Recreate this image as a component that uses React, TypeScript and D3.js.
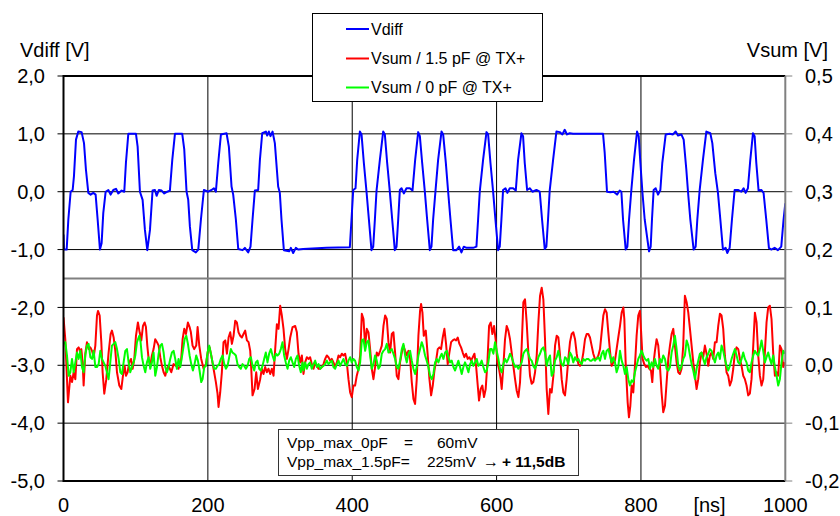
import React from "react";
import * as d3 from "d3";

// chart frame
const W = 840,
  H = 516;
const frame = { left: 63.5, right: 785.3, top: 76, bottom: 481 };

// axis ticks
const timeTicks = [0, 200, 400, 600, 800, 1000];
const vdiffTicks = [2, 1, 0, -1, -2, -3, -4, -5];
const vsumTicks = [0.5, 0.4, 0.3, 0.2, 0.1, 0, -0.1, -0.2];
// baseline separating the two traces (Vdiff scale)
const splitLevel = -1.5;

// Vdiff [ns, V]
const vdiff = [
  [0, -0.74], [0.7, -1.0], [4.4, -1.0], [6.7, -0.48], [9.9, 0.0], [12.7, 0.03], [14.5, 0.27], [17.3, 0.9],
  [20.5, 1.04], [25.1, 1.03], [28.4, 0.84], [31.1, 0.38], [34.4, -0.02], [37.6, -0.05], [41.3, -0.02], [44.5, -0.05],
  [47.3, -0.48], [50.5, -1.0], [52.8, -0.89], [55.1, -0.37], [58.4, 0.0], [62.1, 0.03], [65.3, -0.05], [69, 0.03],
  [72.7, 0.05], [75.9, -0.03], [80.5, 0.02], [84.2, 0.0], [86.5, 0.5], [89.8, 1.0], [100.4, 1.0], [102.7, 0.78],
  [105.9, 0.0], [109.6, -0.14], [112.8, -0.66], [116.1, -1.01], [119.8, -0.66], [123.4, 0.02], [126.7, 0.03], [129, -0.07],
  [132.2, 0.03], [135.9, 0.02], [139.6, -0.03], [143.8, 0.0], [147.4, 0.02], [150.7, 0.55], [154.4, 1.0], [164.5, 1.0],
  [167.3, 0.73], [170.5, 0.0], [172.8, -0.14], [175.1, -0.6], [178.4, -1.01], [183.4, -1.05], [186.7, -1.0], [190.4, -0.48],
  [194.5, 0.03], [200.5, 0.0], [205.1, 0.03], [208.4, 0.06], [211.1, 0.0], [214.4, 0.5], [218.1, 0.99], [225.9, 1.01],
  [229.1, 0.78], [232.8, 0.09], [235.1, -0.05], [238.8, -0.48], [242.1, -0.99], [248.1, -1.01], [251.3, -0.97], [255.9, -1.05],
  [259.1, -0.95], [261.9, -0.48], [265.1, 0.02], [269.7, 0.03], [272.1, 0.55], [275.3, 1.01], [280.4, 1.04], [282.2, 0.97],
  [284.5, 1.04], [286.8, 0.96], [289.6, 1.04], [292.8, 0.84], [297.4, 0.09], [299.7, -0.02], [302, -0.48], [305.3, -1.01],
  [312.7, -1.03], [315, -0.97], [318.2, -1.06], [321.9, -0.97], [325.1, -1.0], [332, -0.99], [364.4, -0.97], [396.7, -0.96],
  [399, -0.48], [401.4, 0.03], [404.6, 0.06], [406.9, 0.55], [410.6, 1.04], [412.9, 0.99], [416.1, 0.5], [419.8, 0.0],
  [423.1, -0.48], [426.7, -1.01], [429.1, -0.95], [431.4, -0.48], [433.7, 0.02], [438.3, 0.55], [442.9, 1.04], [445.2, 0.99],
  [448.4, 0.5], [452.1, 0.0], [455.4, -0.48], [459, -1.01], [461.4, -0.95], [463.7, -0.48], [466, 0.03], [468.3, 0.06],
  [471.5, -0.03], [475.2, 0.06], [479.8, 0.06], [483.5, 0.02], [487.2, 0.55], [491.4, 1.03], [493.7, 0.96], [496.9, 0.5],
  [500.6, 0.0], [503.8, -0.48], [507.5, -1.01], [509.8, -0.95], [512.1, -0.48], [515.4, 0.02], [519, 0.55], [523.7, 1.04],
  [526, 0.99], [529.7, 0.5], [532.9, 0.0], [536.1, -0.48], [539.8, -1.01], [544.4, -1.01], [548.1, -0.95], [551.3, -1.05],
  [554.6, -0.95], [558.3, -0.97], [567.5, -0.97], [572.1, -0.95], [574.4, -0.48], [576.7, 0.0], [581.3, 0.55], [586, 1.03],
  [588.3, 0.99], [591.5, 0.5], [595.2, 0.0], [598.4, -0.48], [602.1, -1.01], [604.4, -0.95], [606.7, -0.48], [609, 0.03],
  [612.3, 0.06], [615, -0.02], [618.3, 0.06], [622.9, 0.06], [626.6, 0.02], [629.8, 0.55], [634.4, 1.01], [636.7, 0.96],
  [639, 0.5], [642.3, 0.03], [645.9, 0.06], [649.7, 0.0], [655.2, 0.03], [659.8, 0.0], [663, -0.48], [666.7, -0.99],
  [669, -0.95], [671.3, -0.48], [673.6, 0.02], [678.3, 0.55], [682.9, 1.04], [687.5, 1.03], [691.2, 0.99], [694.4, 1.07],
  [697.6, 0.99], [701.3, 1.01], [705.9, 1.0], [747.5, 1.0], [749.8, 0.67], [753, 0.0], [757.6, -0.01], [762.3, 0.0],
  [766.9, -0.05], [770.6, 0.02], [772.9, 0.0], [775.2, -0.48], [778.9, -1.0], [781.2, -0.95], [783.5, -0.48], [786.7, 0.03],
  [790.4, 0.55], [794.6, 1.04], [796.9, 0.96], [799.2, 0.5], [802, 0.0], [805.2, -0.48], [811.2, -1.03], [813.5, -0.95],
  [815.3, -0.48], [817.6, 0.03], [820.4, 0.06], [823.7, -0.05], [826.9, 0.03], [829.6, 0.5], [834.3, 0.99], [839.8, 1.0],
  [844.4, 0.99], [848.1, 1.04], [851.3, 0.97], [856, 0.99], [859.2, 0.9], [862.9, 0.38], [865.2, 0.0], [868.4, -0.48],
  [873, -1.0], [875.8, -0.95], [878.1, -0.48], [881.3, 0.02], [885.9, 0.55], [890.6, 1.04], [896.1, 1.01], [898.9, 0.84],
  [903, 0.32], [906.7, -0.02], [910, -0.48], [913.6, -1.0], [917.3, -0.97], [919.6, -1.06], [922.9, -0.97], [926.1, -0.48],
  [929.8, 0.03], [934.4, 0.03], [939, 0.0], [942.2, 0.06], [945, -0.02], [948.2, 0.06], [951.5, 0.55], [955.2, 1.01],
  [957.5, 0.96], [959.8, 0.5], [963, 0.02], [966.7, 0.03], [969.9, -0.02], [973.6, -0.48], [977.3, -0.97], [980.5, -1.0],
  [985.2, -0.97], [989.8, -1.01], [994.4, -0.95], [997.6, -0.48], [1000, -0.2]
];

// Vsum with 1.5 pF @ TX+  [ns, mV]
const vsum15pF = [
  [0, 83], [2.5, 45], [6.2, -64], [9.5, -18], [11.8, -29], [14.1, -12], [16.4, -24], [18.7, 28], [21, 31], [23.3, 22],
  [24.7, 28], [26.5, 5], [27.9, -35], [30.2, 20], [32.5, 40], [34.8, 28], [37.2, 31], [39.5, 25], [41.8, 14], [44.1, 34],
  [46.4, 86], [47.8, 94], [50.1, 86], [52.4, 40], [54.2, -12], [56.5, -49], [59.3, -24], [62.5, 22], [65.3, 54], [67.1, 60],
  [69.5, 48], [71.8, 25], [74.1, -12], [77.3, -35], [80.1, -41], [82.4, -18], [84.7, -1], [86.5, -18], [88.8, -12], [91.1, 5],
  [93.5, 11], [95.8, -6], [98.1, 11], [100.4, 51], [103.1, 74], [105.5, 57], [107.8, 43], [110.1, 68], [112.4, 74], [114.2, 66],
  [116.1, 34], [117.9, 11], [120.2, -1], [122.5, 17], [124.8, 28], [127.1, 45], [129.5, 40], [131.8, 34], [134.1, 14], [136.4, -1],
  [138.7, -12], [141, -18], [143.3, -6], [145.6, -1], [149.3, -12], [152.5, 2], [155.8, -1], [159.4, -6], [162.7, 5], [165, 45],
  [167.3, 63], [169.6, 54], [172.4, 74], [174.7, 66], [176.5, 57], [178.8, 34], [181.1, 28], [183.9, 34], [185.8, 66], [188.1, 34],
  [190.8, 11], [194.1, -6], [197.3, 2], [200.1, 25], [202.4, 31], [204.7, 17], [207.9, -6], [211.1, -29], [213.4, -49], [214.8, -72],
  [217.1, -47], [219.4, -12], [221.7, 40], [224.1, 43], [226.4, 20], [228.7, 48], [231, 57], [233.3, 37], [235.6, 51], [237.9, 77],
  [240.2, 74], [242.5, 57], [244.8, 51], [247.1, 48], [249.4, 54], [251.7, 60], [254.1, 43], [256.4, 40], [258.7, 25], [260, -3],
  [261.9, -52], [264.7, -41], [267, -12], [269.3, -41], [272.5, -24], [274.8, -6], [277.1, -15], [279.4, -3], [281.7, -12], [284, -6],
  [286.4, -15], [288.7, -6], [291, -18], [293.3, 28], [295.6, 71], [297.9, 63], [300.2, 103], [302.5, 86], [304.8, 63], [307.1, 28],
  [309.5, 11], [311.8, 28], [314.1, 48], [317.3, 66], [321, 68], [323.3, 57], [325.6, 20], [327.9, 5], [330.2, 17], [332.5, -15],
  [334.8, 5], [337.1, 14], [339.4, 11], [341.7, 14], [344, 2], [346.4, -6], [348.7, 5], [351, -1], [353.3, -6], [355.6, -6],
  [357.9, -3], [360.2, 2], [362.5, 11], [364.8, 17], [367.1, 14], [369.4, 8], [371.7, 11], [374, 5], [376.4, -3], [378.7, 5],
  [381, 17], [383.3, 14], [385.6, 20], [387.9, 17], [390.2, 20], [392.5, 5], [394.8, -24], [397.1, -47], [399.4, -55], [401.7, -35],
  [404, -35], [406.3, -18], [408.7, -6], [411, 17], [413.3, 89], [415.6, 80], [417.9, 34], [420.2, 63], [422.5, 57], [424.8, 28],
  [427.1, -6], [429.4, -24], [431.7, -3], [434, 22], [436.3, 17], [438.7, 25], [441, 34], [443.3, 68], [445.6, 86], [447.9, 80],
  [450.2, 40], [452.5, 22], [454.8, 54], [457.1, 57], [459.4, 22], [461.7, -18], [464, -24], [466.3, 5], [468.7, 22], [471, 34],
  [473.3, 25], [475.6, 17], [477.9, 25], [480.2, 11], [482.5, -29], [484.8, -58], [487.1, -67], [489.4, -24], [491.7, 51], [494, 94],
  [495.4, 106], [497.3, 91], [499.1, 51], [501.9, 60], [504.6, 17], [507, -24], [509.3, -52], [511.6, -35], [513.9, -9], [516.2, 8],
  [518.5, 28], [520.8, 31], [523.1, 28], [525.4, 48], [527.7, 63], [530, 37], [532.3, 2], [534.6, 22], [537, 40], [539.3, 43],
  [541.6, 45], [543.9, 43], [546.2, 48], [548.5, 37], [550.8, 31], [553.1, 22], [555.4, 14], [557.7, 20], [560, 11], [562.3, 14],
  [564.6, 8], [567, 14], [569.3, 20], [571.6, -1], [573.9, -35], [575.7, -61], [578, -41], [580.3, -35], [582.6, -55], [584.9, -41],
  [587.3, 5], [589.6, 68], [591.9, 74], [594.2, 54], [596.5, 68], [598.8, 43], [601.1, 5], [603.4, -6], [605.7, -24], [607.1, -41],
  [609.4, -1], [611.7, 45], [614, 68], [616.3, 60], [618.6, 45], [620.9, 22], [623.2, -1], [625.6, -24], [627.9, -44], [630.2, -55],
  [632.5, -29], [634.8, 34], [637.1, 109], [639.4, 114], [641.7, 74], [644, 22], [646.3, -18], [648.6, -32], [650.9, -29], [653.3, -12],
  [655.6, 17], [657.9, 74], [660.2, 120], [662.5, 134], [664.8, 114], [667.1, 45], [669.4, -41], [671.7, -84], [674, -41], [676.3, -47],
  [678.7, -18], [681, 34], [683.3, 51], [685.6, 48], [687.9, 17], [690.2, -24], [692.5, -47], [694.8, -52], [697.1, -24], [699.4, 11],
  [701.7, 40], [704, 54], [706.3, 57], [708.7, 45], [711, 20], [713.3, 2], [715.6, -1], [717.9, 5], [720.2, 22], [722.5, 45],
  [724.8, 54], [727.1, 54], [729.4, 48], [731.7, 34], [734, 20], [736.3, 11], [738.6, 11], [741, 17], [743.3, 28], [745.6, 57],
  [747.9, 86], [750.2, 97], [752.5, 91], [754.8, 57], [757.1, 25], [759.4, -1], [761.7, 5], [764, 8], [766.3, 28], [768.6, 48],
  [771, 68], [773.3, 91], [775.6, 100], [777, 80], [778.8, 5], [781.6, -64], [783.4, -90], [785.3, -70], [787.1, -35], [789.4, -47],
  [791.7, -1], [794, 51], [796.3, 86], [798.6, 94], [800, 63], [802.3, 11], [804.6, 2], [807, -3], [809.3, -1], [811.6, -6],
  [813.9, -9], [815.7, -29], [817.6, 5], [819.4, 25], [821.7, 45], [824, 34], [826.3, -1], [828.6, -47], [830.9, -81], [833.3, -70],
  [835.6, -29], [837.9, 11], [840.2, 34], [842.5, 54], [844.8, 63], [847.1, 34], [849.4, 5], [851.7, -12], [854, -15], [856.3, -6],
  [858.6, 34], [860.9, 120], [863.3, 109], [865.6, 91], [867.9, 63], [870.2, 34], [872.5, 5], [874.8, -18], [877.1, -41], [879.4, -24],
  [881.7, 5], [884, 22], [886.3, 14], [888.6, 34], [890.9, 20], [893.3, -1], [895.6, 17], [897.9, 22], [900.2, 11], [902.5, 40],
  [904.8, 40], [907.1, 68], [909.4, 89], [911.7, 86], [914, 63], [916.3, 17], [918.6, -12], [920.9, -18], [923.2, -35], [925.6, -26],
  [927.9, -6], [930.2, 22], [932.5, 31], [934.8, 28], [937.1, 11], [939.4, -1], [941.7, -18], [944, -24], [946.3, -35], [948.6, -52],
  [950.9, -49], [953.2, -24], [955.6, 34], [957.9, 91], [960.2, 74], [962.5, 17], [964.8, -18], [967.1, -35], [969.4, -24], [971.7, 22],
  [974, 74], [976.3, 100], [978.6, 103], [980.9, 80], [983.2, 22], [985.6, -18], [987.9, -12], [990.2, -18], [992.5, 34], [994.8, 28],
  [997.1, -3], [999.4, 5]
];

// Vsum with 0 pF @ TX+  [ns, mV]
const vsum0pF = [
  [0, 37], [2.5, 40], [4.8, 17], [7.2, -18], [9.5, -12], [11.8, 11], [14.1, -12], [16.4, 5], [18.7, 22], [21, 11],
  [23.3, 25], [25.6, -3], [27.9, -12], [30.2, 17], [32.5, 34], [34.8, 37], [37.2, 14], [39.5, 11], [41.8, 25], [44.1, -3],
  [46.4, -3], [48.7, 2], [51, 25], [53.3, 11], [55.6, 5], [57.9, -1], [60.2, -12], [62.5, -24], [64.8, 5], [67.1, 34],
  [69.5, 37], [71.8, 40], [74.1, 28], [76.4, 11], [78.7, -12], [81, -15], [83.3, 5], [85.6, 25], [87.9, 28], [90.2, 5],
  [92.5, -12], [94.8, -3], [97.1, 5], [99.5, 17], [101.8, 40], [105, 51], [106.8, 40], [108.7, 14], [111, -1], [113.3, -12],
  [115.6, 5], [117.9, 14], [120.2, -6], [122.5, 5], [124.8, 22], [127.1, -18], [129.5, -3], [131.8, 20], [134.1, 34], [136.4, 37],
  [138.7, 22], [141, -3], [143.3, -12], [145.6, -3], [147.9, 11], [150.2, 22], [152.5, 25], [154.8, 11], [157.1, -6], [159.4, 11],
  [161.8, -3], [165, 22], [167.8, 45], [170.1, 51], [172.4, 37], [174.7, 17], [177, 2], [179.3, -9], [181.6, 2], [183.9, 17],
  [186.2, 8], [188.5, -9], [190.8, -29], [192.7, -24], [195, -3], [197.3, -1], [199.6, 22], [201.9, 34], [204.2, 20], [206.5, 5],
  [208.8, -6], [211.1, -6], [213.4, -1], [215.7, 2], [218, 11], [220.4, 17], [222.7, 2], [225, -6], [227.3, -1], [229.6, 14],
  [231.9, 28], [234.2, 22], [236.5, 20], [238.8, 17], [241.1, 2], [243.4, -3], [245.7, -6], [248, 2], [250.3, -1], [252.7, -6],
  [255, -1], [257.3, 11], [259.6, 14], [261.9, -1], [264.2, -9], [266.5, 5], [268.8, 8], [271.1, -6], [273.4, -9], [275.7, -1],
  [278, 11], [280.3, 22], [282.6, 5], [284.9, 20], [287.3, 28], [289.6, 17], [291.9, 8], [294.2, 20], [296.5, 17], [298.8, 20],
  [301.1, 28], [303.4, 40], [305.7, 17], [308, 5], [310.4, -6], [312.7, 8], [315, 14], [317.3, 5], [319.6, -3], [321.9, 11],
  [324.2, 17], [326.5, -1], [328.8, -12], [331.1, 5], [332.5, -9], [334.8, 5], [337.1, -6], [339.4, 2], [341.7, 5], [344, -6],
  [346.4, 2], [348.7, 8], [351, -3], [353.3, 2], [355.6, -6], [357.9, -3], [360.2, -1], [362.5, 2], [364.8, 8], [367.1, 2],
  [369.4, 5], [371.7, 8], [374, -3], [376.4, -6], [378.7, 2], [381, 8], [383.3, -1], [385.6, 5], [387.9, 11], [390.2, 2],
  [392.5, -1], [394.8, 8], [397.1, 14], [399.4, 5], [401.7, 11], [404, 8], [406.3, -3], [408.7, -9], [411, 5], [413.3, 43],
  [415.6, 45], [417.9, 25], [420.2, 40], [422.5, 43], [424.8, 17], [427.1, -6], [429.4, 2], [431.7, 17], [434, 8], [436.3, -6],
  [438.7, -1], [441, 20], [443.3, 25], [445.6, 28], [447.9, 37], [450.2, 22], [452.5, 25], [454.8, 28], [457.1, 20], [459.4, 11],
  [461.7, -3], [464, -6], [466.3, 8], [468.7, 28], [471, 37], [473.3, 17], [475.6, 5], [477.9, 20], [480.2, 25], [482.5, 8],
  [484.8, -6], [487.1, -15], [489.4, -3], [491.7, 17], [494, 28], [496.3, 40], [498.6, 31], [500.9, 17], [503.2, 8], [505.6, -3],
  [507.9, -18], [510.2, -24], [512.5, -15], [514.8, 5], [517.1, 11], [519.4, 5], [521.7, 14], [524, 20], [526.3, 11], [528.7, 22],
  [531, 25], [533.3, 14], [535.6, 5], [537.9, 8], [540.2, -3], [542.5, -9], [544.8, -1], [547.1, 8], [549.4, -3], [551.7, -15],
  [554, -3], [556.3, 5], [558.7, -3], [561, -12], [563.3, 2], [565.6, 8], [567.9, -1], [570.2, 5], [572.5, 11], [574.8, -1],
  [577.1, 2], [579.4, 8], [581.7, -3], [584, -12], [586.3, -9], [588.6, 5], [591, 28], [593.3, 28], [595.6, 20], [597.9, 40],
  [600.2, 25], [602.5, 11], [604.8, -6], [607.1, -12], [609.4, 2], [611.7, 11], [614, 5], [616.3, 11], [618.6, 20], [620.9, 14],
  [623.2, 5], [625.6, -3], [627.9, -1], [630.2, -6], [632.5, -1], [634.8, 5], [637.1, 20], [639.4, 25], [641.7, 28], [644, 20],
  [646.3, 11], [648.6, 8], [650.9, -1], [653.3, -6], [655.6, 2], [657.9, 14], [660.2, 20], [662.5, 28], [664.8, 31], [667.1, 22],
  [669.4, -1], [671.7, 11], [674, 17], [676.3, -18], [678.7, -12], [681, 8], [683.3, 14], [685.6, 25], [687.9, 11], [690.2, 2],
  [692.5, -1], [694.8, 14], [697.1, 11], [699.4, 2], [701.7, 22], [704, 17], [706.3, 5], [708.7, 14], [711, 8], [713.3, 11],
  [715.6, 5], [717.9, 2], [720.2, 11], [722.5, 8], [724.8, 11], [727.1, 11], [729.4, 8], [731.7, 8], [734, 11], [736.3, 8],
  [738.6, 11], [741, 14], [743.3, 8], [745.6, 20], [747.9, 25], [750.2, 11], [752.5, 25], [754.8, 28], [757.1, 17], [759.4, 5],
  [761.7, 14], [764, 5], [766.3, -12], [768.6, -3], [771, 25], [773.3, 8], [775.6, -1], [777.9, -15], [780.2, -3], [782.5, -24],
  [784.8, -35], [787.1, -26], [789.4, -29], [791.7, -12], [794, -1], [796.3, 11], [798.6, 17], [801, 25], [803.3, 17], [805.6, 11],
  [807.9, 8], [810.2, 11], [812.5, -6], [814.8, 5], [817.1, -3], [819.4, 11], [821.7, -1], [824, -6], [826.3, 11], [828.6, 5],
  [830.9, 17], [833.3, 11], [835.6, -6], [837.9, -9], [840.2, -3], [842.5, 22], [844.8, 34], [847.1, 51], [849.4, 28], [851.7, -1],
  [854, -9], [856.3, -1], [858.6, 11], [860.9, 17], [863.3, 43], [865.6, 34], [867.9, 17], [870.2, 2], [872.5, -9], [874.8, -24],
  [877.1, -6], [879.4, 8], [881.7, 20], [884, 22], [886.3, 11], [888.6, 2], [890.9, 14], [893.3, 20], [895.6, 28], [897.9, 25],
  [900.2, 14], [902.5, 5], [904.8, 17], [907.1, 22], [909.4, 11], [911.7, 34], [914, 25], [916.3, 11], [918.6, -1], [920.9, -9],
  [923.2, -1], [925.6, 11], [927.9, 20], [930.2, 28], [932.5, 17], [934.8, 5], [937.1, 2], [939.4, 11], [941.7, 22], [944, 11],
  [946.3, 5], [948.6, -9], [950.9, -12], [953.2, 5], [955.6, 17], [957.9, 25], [960.2, 20], [962.5, 17], [964.8, 28], [967.1, 43],
  [969.4, 25], [971.7, 5], [974, 14], [976.3, 22], [978.6, 11], [980.9, 2], [983.2, 17], [985.6, -3], [987.9, -18], [990.2, -35],
  [992.5, -24], [994.8, 5], [997.1, 25], [999.4, 20]
];

const legendLabels = ["Vdiff", "Vsum / 1.5 pF @ TX+", "Vsum / 0 pF @ TX+"];
const legendColors = ["#0000ff", "#ff0000", "#00ff00"];

// note box text
const noteNames = ["Vpp_max_0pF", "Vpp_max_1.5pF"];
const noteValues = ["60mV", "225mV"];
const noteGain = "+ 11,5dB";

const FONT = "'Liberation Sans', Arial, Helvetica, sans-serif";
const locale = d3.formatLocale({ decimal: ",", thousands: ".", grouping: [3], currency: ["", ""], minus: "-" });
const fmt = locale.format(".1f");

export default function App() {
  const x = d3.scaleLinear().domain([0, 1000]).range([frame.left, frame.right]);
  const yL = d3.scaleLinear().domain([-5, 2]).range([frame.bottom, frame.top]);
  const yR = d3.scaleLinear().domain([-0.2, 0.5]).range([frame.bottom, frame.top]);

  const diffLine = d3
    .line<number[]>()
    .x(d => x(d[0]))
    .y(d => yL(d[1]));
  const sumLine = d3
    .line<number[]>()
    .x(d => x(d[0]))
    .y(d => yR(d[1] / 1000));

  // legend box
  const lg = { x: 312.5, y: 13.5, w: 230, h: 88 };
  const lgRows = [29, 58.5, 87.5];
  // note box
  const nb = { x: 278.5, y: 429.5, w: 300, h: 46 };
  const timeBaseline = 511.5;

  return (
    <svg
      width={W}
      height={H}
      style={{ position: "absolute", left: 0, top: 0, background: "#fff" }}
      fontFamily={FONT}
    >
      <defs>
        <clipPath id="plot-clip">
          <rect x={frame.left} y={frame.top} width={frame.right - frame.left} height={frame.bottom - frame.top} />
        </clipPath>
      </defs>

      {/* horizontal grid */}
      {vdiffTicks.slice(1, -1).map(v => (
        <line key={"h" + v} x1={frame.left} x2={frame.right} y1={yL(v)} y2={yL(v)} stroke="#000" strokeWidth={1} />
      ))}
      {/* vertical grid */}
      {timeTicks.slice(1, -1).map(t => (
        <line key={"v" + t} x1={x(t)} x2={x(t)} y1={frame.top} y2={frame.bottom} stroke="#000" strokeWidth={1} />
      ))}
      {/* split line between Vdiff and Vsum traces */}
      <line x1={frame.left} x2={frame.right} y1={yL(splitLevel)} y2={yL(splitLevel)} stroke="#808080" strokeWidth={2} />

      {/* series */}
      <g clipPath="url(#plot-clip)" fill="none" strokeLinejoin="round">
        <path d={sumLine(vsum15pF) || ""} stroke="#ff0000" strokeWidth={2} />
        <path d={sumLine(vsum0pF) || ""} stroke="#00ff00" strokeWidth={2} />
        <path d={diffLine(vdiff) || ""} stroke="#0000ff" strokeWidth={2} />
      </g>

      {/* frame */}
      <line x1={frame.left} x2={frame.right} y1={frame.top} y2={frame.top} stroke="#000" strokeWidth={2} />
      <line x1={frame.left} x2={frame.right} y1={frame.bottom} y2={frame.bottom} stroke="#000" strokeWidth={2} />
      <line x1={frame.right} x2={frame.right} y1={frame.top} y2={frame.bottom} stroke="#808080" strokeWidth={2} />
      <line x1={frame.left} x2={frame.left} y1={frame.top - 1} y2={frame.bottom + 1} stroke="#000" strokeWidth={2} />

      {/* left axis */}
      {vdiffTicks.map(v => (
        <g key={"l" + v}>
          <line x1={frame.left - 6} x2={frame.left} y1={yL(v)} y2={yL(v)} stroke="#000" strokeWidth={1} />
          <text x={45} y={yL(v) + 7.2} textAnchor="end" fontSize={20} fill="#000">
            {fmt(v)}
          </text>
        </g>
      ))}
      {/* right axis */}
      {vsumTicks.map(v => (
        <g key={"r" + v}>
          <line x1={frame.right} x2={frame.right + 7} y1={yR(v)} y2={yR(v)} stroke="#808080" strokeWidth={1} />
          <text x={805} y={yR(v) + 7.2} textAnchor="start" fontSize={20} fill="#000">
            {fmt(v)}
          </text>
        </g>
      ))}
      {/* time axis */}
      {timeTicks.map(t => (
        <text key={"t" + t} x={x(t)} y={timeBaseline} textAnchor="middle" fontSize={20} fill="#000">
          {t}
        </text>
      ))}
      <text x={x(895)} y={timeBaseline} textAnchor="middle" fontSize={20} fill="#000">
        [ns]
      </text>
      <text x={20} y={57} fontSize={20} fill="#000">
        Vdiff [V]
      </text>
      <text x={828} y={57} textAnchor="end" fontSize={20} fill="#000">
        Vsum [V]
      </text>

      {/* legend */}
      <rect x={lg.x} y={lg.y} width={lg.w} height={lg.h} fill="#fff" stroke="#000" strokeWidth={1} />
      {legendLabels.map((label, i) => (
        <g key={label}>
          <line x1={346} x2={369} y1={lgRows[i]} y2={lgRows[i]} stroke={legendColors[i]} strokeWidth={2} />
          <text x={371} y={lgRows[i] + 5.8} fontSize={16} fill="#000">
            {label}
          </text>
        </g>
      ))}

      {/* peak-to-peak note */}
      <rect x={nb.x} y={nb.y} width={nb.w} height={nb.h} fill="#fff" stroke="#333" strokeWidth={1} />
      <g fontSize={15.5} fill="#000">
        <text x={287} y={448}>{noteNames[0]}</text>
        <text x={404} y={448}>=</text>
        <text x={437} y={448}>{noteValues[0]}</text>
        <text x={287} y={466.5}>{noteNames[1] + "="}</text>
        <text x={427} y={466.5}>{noteValues[1]}</text>
        <text x={483} y={466.5} fontSize={16}>
          →
        </text>
        <text x={502} y={466.5} fontWeight="bold">
          {noteGain}
        </text>
      </g>
    </svg>
  );
}
